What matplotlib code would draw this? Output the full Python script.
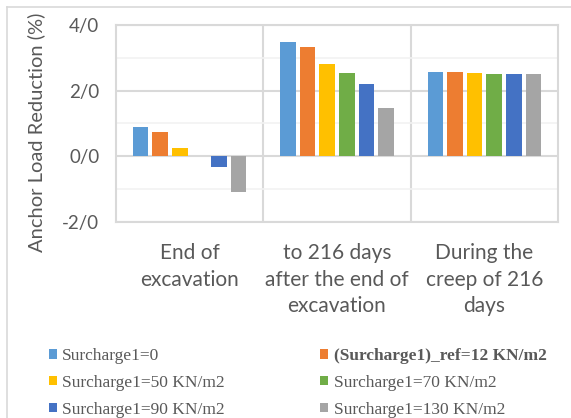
import numpy as np
import matplotlib.pyplot as plt
from matplotlib.lines import Line2D
from matplotlib.ticker import FixedLocator

# dados
categorias = ["End of\nexcavation", "to 216 days\nafter the end of\nexcavation", "During the\ncreep of 216\ndays"]
series = ["Surcharge1=0", "(Surcharge1)_ref=12 KN/m2", "Surcharge1=50 KN/m2",
          "Surcharge1=70 KN/m2", "Surcharge1=90 KN/m2", "Surcharge1=130 KN/m2"]
s0 = [0.90, 3.47, 2.57]
s12 = [0.75, 3.34, 2.57]
s50 = [0.25, 2.81, 2.54]
s70 = [0.0, 2.53, 2.51]
s90 = [-0.33, 2.19, 2.51]
s130 = [-1.08, 1.48, 2.51]
valores = [s0, s12, s50, s70, s90, s130]
cores = ["#5b9bd5", "#ed7d31", "#ffc000", "#70ad47", "#4472c4", "#a5a5a5"]
yticks = [-2, 0, 2, 4]
ytick_labels = ["-2/0", "0/0", "2/0", "4/0"]

plt.rcParams['font.family'] = ['Lato', 'DejaVu Sans']
cinza = "#595959"

fig = plt.figure(figsize=(5.71, 4.18), dpi=100)
ax = fig.add_axes([116 / 571, 1 - 222 / 418, (558 - 116) / 571, (222 - 25) / 418])

x = np.arange(len(categorias))
passo = 0.133
larg = 0.106
barras = []
for i, (v, c) in enumerate(zip(valores, cores)):
    b = ax.bar(x + (i - 2.5) * passo, v, width=larg, color=c, zorder=3)
    barras.append(b)

ax.set_xlim(-0.5, 2.5)
ax.set_ylim(-2, 4)
ax.set_yticks(yticks)
ax.set_yticklabels(ytick_labels)
ax.yaxis.set_minor_locator(FixedLocator([-1, 1, 3]))
ax.set_xticks(x)
ax.set_xticklabels(categorias, linespacing=1.42)
ax.tick_params(axis="both", which="both", length=0, colors=cinza)
ax.tick_params(axis="x", pad=15, labelsize=15)
ax.tick_params(axis="y", pad=12, labelsize=13.5)

ax.grid(axis="y", which="major", color="#d9d9d9", lw=1.5, zorder=0)
ax.grid(axis="y", which="minor", color="#f2f2f2", lw=1.2, zorder=0)
for xv in [0.5, 1.5]:
    ax.axvline(xv, color="#d9d9d9", lw=1.5, zorder=0)
for s in ax.spines.values():
    s.set_color("#d9d9d9")
    s.set_linewidth(1.5)

ax.set_ylabel("Anchor Load Reduction (%)", color=cinza, fontsize=14.5)
ax.yaxis.set_label_coords(-0.161, 0.454)

# borda externa do gráfico
fig.add_artist(Line2D([7 / 571, 1], [1 - 7 / 418, 1 - 7 / 418], color="#d9d9d9", lw=1.2))
fig.add_artist(Line2D([7 / 571, 7 / 571], [0, 1 - 7 / 418], color="#d9d9d9", lw=1.2))

# legenda em duas colunas (ordem linha a linha como no Excel)
ordem = [0, 2, 4, 1, 3, 5]
leg = fig.legend([barras[i] for i in ordem], [series[i] for i in ordem],
                 ncol=2, loc="upper left", bbox_to_anchor=(49 / 571, 1 - 348 / 418),
                 frameon=False, prop={"family": "Liberation Serif", "size": 12.5},
                 handlelength=0.46, handleheight=0.46, handletextpad=0.3,
                 columnspacing=5.5, labelspacing=0.62, borderpad=0, borderaxespad=0)
for t in leg.get_texts():
    t.set_color(cinza)
    if t.get_text().startswith("(Surcharge1)"):
        t.set_fontweight("bold")

fig.savefig("out.png", dpi=100)
